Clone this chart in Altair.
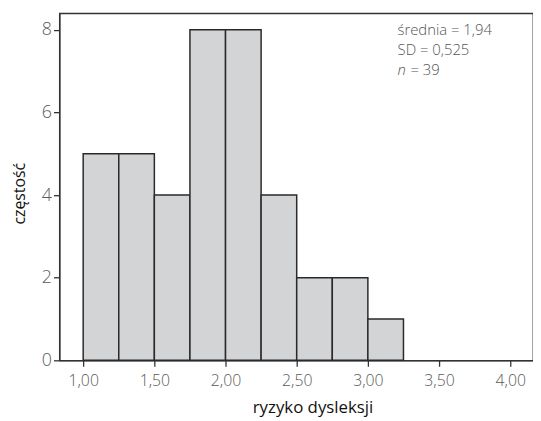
import altair as alt
import pandas as pd

bin_start = [1.00, 1.25, 1.50, 1.75, 2.00, 2.25, 2.50, 2.75, 3.00]
bin_end = [1.25, 1.50, 1.75, 2.00, 2.25, 2.50, 2.75, 3.00, 3.25]
counts = [5, 5, 4, 8, 8, 4, 2, 2, 1]
x_ticks = [1.0, 1.5, 2.0, 2.5, 3.0, 3.5, 4.0]
y_ticks = [0, 2, 4, 6, 8]
stat_lines = ["średnia = 1,94", "SD = 0,525"]
n_label = "n"
n_value = "= 39"

FONT = "Open Sans"

df = pd.DataFrame({"start": bin_start, "end": bin_end, "count": counts})

bars = alt.Chart(df).mark_rect(
    fill="#d3d4d6", stroke="#2a2a2a", strokeWidth=1.5
).encode(
    x=alt.X("start:Q",
            scale=alt.Scale(domain=[0.833, 4.16], nice=False, zero=False),
            axis=alt.Axis(values=x_ticks,
                          labelExpr="replace(format(datum.value, '.2f'), '.', ',')",
                          title="ryzyko dysleksji",
                          titleX=256, titleY=53, titleBaseline="alphabetic",
                          labelFontSize=16, labelPadding=6)),
    x2="end:Q",
    y=alt.Y("count:Q",
            scale=alt.Scale(domain=[0, 8.4], nice=False),
            axis=alt.Axis(values=y_ticks, title="częstość",
                          titleX=-40, titleY=182, titleAngle=-90,
                          titleAlign="center", titleBaseline="middle",
                          titleFontSize=16,
                          labelFontSize=18, labelPadding=2)),
    y2=alt.datum(0),
)

stats_df = pd.DataFrame({"t": stat_lines, "yy": [22, 42]})
stats = alt.Chart(stats_df).mark_text(
    align="left", baseline="alphabetic", fontSize=15, font=FONT,
    color="#555555", fontWeight=300
).encode(
    text="t:N",
    x=alt.value(342),
    y=alt.Y("yy:Q", scale=None),
)

n_df = pd.DataFrame({"a": [n_label], "b": [n_value]})
n_it = alt.Chart(n_df).mark_text(
    align="left", baseline="alphabetic", fontSize=15, font=FONT,
    color="#555555", fontStyle="italic", fontWeight=300
).encode(text="a:N", x=alt.value(342), y=alt.value(62))
n_val = alt.Chart(n_df).mark_text(
    align="left", baseline="alphabetic", fontSize=15, font=FONT,
    color="#555555", fontWeight=300
).encode(text="b:N", x=alt.value(355), y=alt.value(62))

chart = alt.layer(bars, stats, n_it, n_val).properties(
    width=479, height=351,
    autosize=alt.AutoSizeParams(type="none"),
    padding={"left": 52, "top": 3, "right": 0, "bottom": 58},
).configure_view(
    stroke="#333333", strokeWidth=1.3
).configure_axis(
    grid=False, domainColor="#333333", domainWidth=1.3,
    tickColor="#333333", tickSize=6, tickWidth=1.3,
    labelColor="#5a5a5a", labelFont=FONT, labelFontWeight=300,
    titleFont=FONT, titleFontSize=17, titleFontWeight=500, titleColor="#111111",
)

chart.save("out.html", embed_options={"renderer": "svg", "actions": False})
